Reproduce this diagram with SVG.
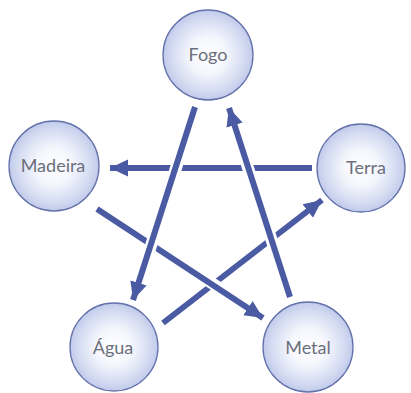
<svg xmlns="http://www.w3.org/2000/svg" width="411" height="393" viewBox="0 0 411 393">
<defs>
<radialGradient id="g" cx="50%" cy="50%" r="50%">
<stop offset="0" stop-color="#ffffff"/>
<stop offset="0.4" stop-color="#f5f7fd"/>
<stop offset="0.8" stop-color="#d5dcf2"/>
<stop offset="1" stop-color="#c0cbea"/>
</radialGradient>
<marker id="ah" markerUnits="userSpaceOnUse" markerWidth="20" markerHeight="20" viewBox="0 0 20 20" refX="18" refY="10" orient="auto">
<path d="M0,1.5 L18,10 L0,18.5 Z" fill="#4b5ba3"/>
</marker>
</defs>
<style>
.c{fill:url(#g);stroke:#6472ac;stroke-width:1.3}
.t{font-family:Lato,"Open Sans",sans-serif;font-size:18px;fill:#6b6f7c;text-anchor:middle}
.l{stroke:#4b5ba3;stroke-width:6;fill:none}
.w{stroke:#ffffff;stroke-width:12;fill:none}
</style>
<g id="connectors">
<path class="l" d="M312,168 L110,168" marker-end="url(#ah)"/>
<path class="w" d="M163,323 L300,212"/>
<path class="l" d="M163,323 L322,200" marker-end="url(#ah)"/>
<path class="w" d="M110,214 L250,309"/>
<path class="l" d="M97,209 L263,318" marker-end="url(#ah)"/>
<path class="w" d="M193,115 L140,280"/>
<path class="l" d="M195,107 L133,300" marker-end="url(#ah)"/>
<path class="w" d="M286,284 L233,122"/>
<path class="l" d="M290,297 L229,108" marker-end="url(#ah)"/>
</g>
<g id="fogo"><circle class="c" cx="208" cy="55" r="45"/><text class="t" x="208" y="61">Fogo</text></g>
<g id="madeira"><circle class="c" cx="54" cy="166" r="45"/><text class="t" x="53" y="172">Madeira</text></g>
<g id="terra"><circle class="c" cx="361" cy="168" r="44"/><text class="t" x="366" y="174">Terra</text></g>
<g id="agua"><circle class="c" cx="114" cy="347" r="44"/><text class="t" x="113" y="354">Água</text></g>
<g id="metal"><circle class="c" cx="308" cy="347" r="45"/><text class="t" x="308" y="354">Metal</text></g>
</svg>
